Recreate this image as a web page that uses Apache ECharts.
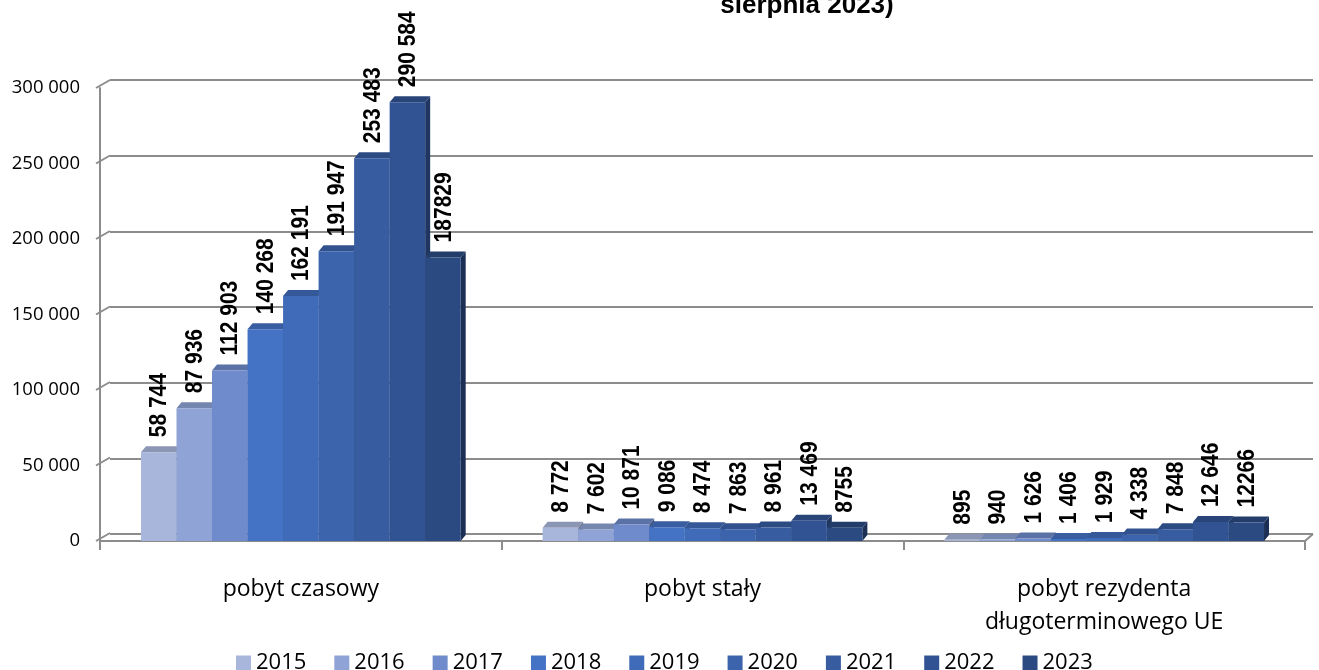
<!DOCTYPE html>
<html>
<head>
<meta charset="utf-8">
<title>Zezwolenia na pobyt</title>
<script src="https://cdn.jsdelivr.net/npm/echarts@6/dist/echarts.min.js"></script>
<style>
    html, body { margin: 0; padding: 0; background: #fff; }
    #chart { width: 1319px; height: 670px; }
</style>
</head>
<body>
<div id="chart"></div>
<script>
// dane
var kategorie = ['pobyt czasowy', 'pobyt stały', 'pobyt rezydenta\ndługoterminowego UE'];
var lata = ['2015', '2016', '2017', '2018', '2019', '2020', '2021', '2022', '2023'];
var pobytCzasowy = [58744, 87936, 112903, 140268, 162191, 191947, 253483, 290584, 187829];
var pobytStaly = [8772, 7602, 10871, 9086, 8474, 7863, 8961, 13469, 8755];
var pobytRezydenta = [895, 940, 1626, 1406, 1929, 4338, 7848, 12646, 12266];
var osY = [0, 50000, 100000, 150000, 200000, 250000, 300000];
var kolory = ['#A9B6DC', '#8FA3D6', '#6F8BCB', '#4472C4', '#406BB9', '#3C64AD', '#375CA0', '#315393', '#2B4A82'];

var szary = '#8C8C8C';

// 1 234 567
function spacje(v) {
    return String(v).replace(/\B(?=(\d{3})+(?!\d))/g, ' ');
}

// przyciemnienie koloru (f = 0..1)
function ciemniej(hex, f) {
    var r = parseInt(hex.substr(1, 2), 16);
    var g = parseInt(hex.substr(3, 2), 16);
    var b = parseInt(hex.substr(5, 2), 16);
    return 'rgb(' + Math.round(r * (1 - f)) + ',' + Math.round(g * (1 - f)) + ',' + Math.round(b * (1 - f)) + ')';
}

var chart = echarts.init(document.getElementById('chart'));

// słupki "3D"
function rysujSlupek(idx) {
    return function (params, api) {
        var cat = api.value(0);
        var val = api.value(1);
        var dol = api.coord([cat, 0]);
        var gora = api.coord([cat, val]);
        var catW = api.size([1, 0])[0];
        var groupW = catW * 0.796;
        var bw = groupW / lata.length;
        var x0 = dol[0] - groupW / 2 + idx * bw;
        var yT = gora[1], yB = dol[1];
        var dx = 5, dy = 6;
        var kolor = kolory[idx];
        var tekst = idx === lata.length - 1 ? String(val) : spacje(val);
        return {
            type: 'group',
            children: [
                {
                    type: 'polygon',
                    shape: { points: [[x0 + bw, yT], [x0 + bw + dx, yT - dy], [x0 + bw + dx, yB - dy], [x0 + bw, yB]] },
                    style: { fill: ciemniej(kolor, 0.35) }
                },
                {
                    type: 'polygon',
                    shape: { points: [[x0, yT], [x0 + bw, yT], [x0 + bw + dx, yT - dy], [x0 + dx, yT - dy]] },
                    style: { fill: ciemniej(kolor, 0.18) }
                },
                {
                    type: 'rect',
                    shape: { x: x0, y: yT, width: bw, height: yB - yT },
                    style: { fill: kolor }
                },
                {
                    type: 'text',
                    x: x0 + bw / 2 + 1,
                    y: yT - 15,
                    rotation: Math.PI / 2,
                    scaleY: 1.15,
                    z2: 50,
                    style: {
                        text: tekst,
                        fill: '#000',
                        font: 'bold 21px "Liberation Sans", Arial, sans-serif',
                        align: 'left',
                        verticalAlign: 'middle'
                    }
                }
            ]
        };
    };
}

var serie = [];
for (var i = 0; i < lata.length; i++) {
    serie.push({
        name: lata[i],
        type: 'custom',
        xAxisIndex: 0,
        yAxisIndex: 0,
        silent: true,
        itemStyle: { color: kolory[i] },
        renderItem: rysujSlupek(i),
        data: [[0, pobytCzasowy[i]], [1, pobytStaly[i]], [2, pobytRezydenta[i]]],
        z: 3
    });
}

// ukośne kreski od osi do tylnej ściany
serie.push({
    name: 'sciana',
    type: 'custom',
    xAxisIndex: 0,
    yAxisIndex: 0,
    silent: true,
    renderItem: function (params, api) {
        var p = api.coord([0, api.value(1)]);
        var cs = params.coordSys;
        var linie = [{
            type: 'line',
            shape: { x1: cs.x - 4, y1: p[1], x2: cs.x + 10, y2: p[1] - 8 },
            style: { stroke: szary, lineWidth: 2 }
        }];
        if (api.value(1) === 0) {
            linie.push({
                type: 'line',
                shape: { x1: cs.x + cs.width, y1: p[1], x2: cs.x + cs.width + 8, y2: p[1] - 7 },
                style: { stroke: szary, lineWidth: 2 }
            });
        }
        return { type: 'group', children: linie };
    },
    data: osY.map(function (v) { return [0, v]; }),
    z: 1
});

var option = {
    animation: false,
    title: {
        text: 'sierpnia 2023)',
        left: 802,
        top: -12,
        textAlign: 'center',
        textStyle: {
            fontFamily: '"Liberation Sans", Arial, sans-serif',
            fontWeight: 'bold',
            fontSize: 26,
            color: '#000'
        }
    },
    legend: {
        data: lata,
        left: 236,
        top: 652,
        padding: 0,
        icon: 'rect',
        itemWidth: 15,
        itemHeight: 15,
        itemGap: 28,
        textStyle: { fontFamily: '"Open Sans", sans-serif', fontSize: 22, color: '#000' }
    },
    grid: [
        { left: 100, right: 14, top: 88, bottom: 129 },
        { left: 110, right: 6, top: 80, bottom: 136 }
    ],
    xAxis: [
        {
            type: 'category',
            gridIndex: 0,
            data: kategorie,
            axisLine: { lineStyle: { color: szary, width: 2 } },
            axisTick: { show: true, length: 9, interval: 0, lineStyle: { color: szary, width: 2 } },
            axisLabel: {
                interval: 0,
                margin: 32,
                lineHeight: 33,
                fontFamily: '"Open Sans", sans-serif',
                fontSize: 23,
                color: '#000'
            }
        },
        {
            type: 'category',
            gridIndex: 1,
            data: kategorie,
            axisLine: { show: false },
            axisTick: { show: false },
            axisLabel: { show: false }
        }
    ],
    yAxis: [
        {
            type: 'value',
            gridIndex: 0,
            min: 0,
            max: 300000,
            interval: 50000,
            axisLine: { show: true, lineStyle: { color: szary, width: 2 } },
            axisTick: { show: false },
            splitLine: { show: false },
            axisLabel: {
                margin: 20,
                fontFamily: '"Open Sans", sans-serif',
                fontSize: 18.5,
                color: '#000',
                formatter: spacje
            }
        },
        {
            type: 'value',
            gridIndex: 1,
            min: 0,
            max: 300000,
            interval: 50000,
            axisLine: { show: false },
            axisTick: { show: false },
            axisLabel: { show: false },
            splitLine: { show: true, lineStyle: { color: szary, width: 2 } }
        }
    ],
    series: serie
};

chart.setOption(option);
</script>
</body>
</html>
